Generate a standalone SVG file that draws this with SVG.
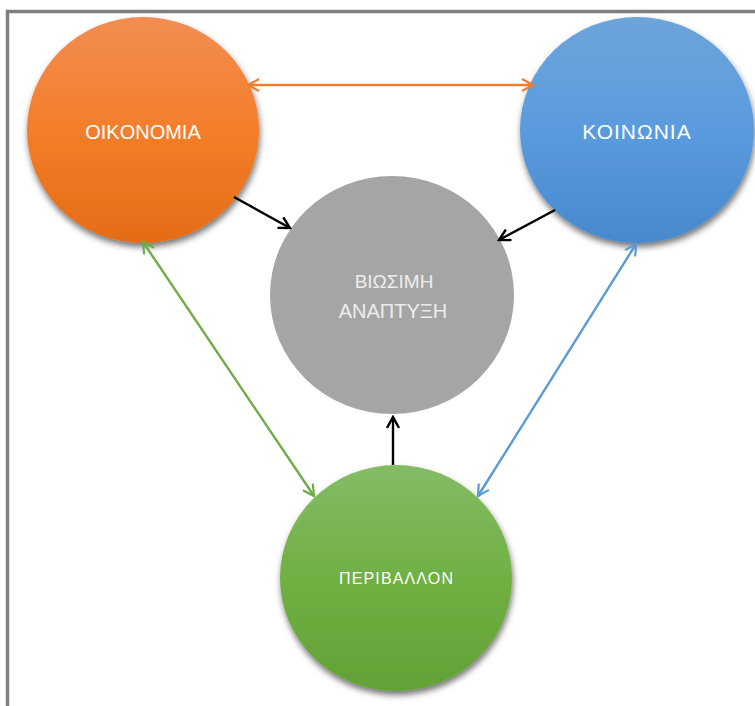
<svg xmlns="http://www.w3.org/2000/svg" width="755" height="706" viewBox="0 0 755 706">
<defs>
<style>
.lbl{font-family:"Liberation Sans",Arial,sans-serif;fill:#fff;text-anchor:middle}
.g{fill:#EDEDED}
.c{fill:none;stroke-width:2.4}
</style>
<linearGradient id="gO" x1="0" y1="0" x2="0" y2="1"><stop offset="0" stop-color="#F28D52"/><stop offset="0.5" stop-color="#F47E2A"/><stop offset="1" stop-color="#E46C17"/></linearGradient>
<linearGradient id="gB" x1="0" y1="0" x2="0" y2="1"><stop offset="0" stop-color="#6DA4DA"/><stop offset="0.5" stop-color="#5A9BDE"/><stop offset="1" stop-color="#4689CC"/></linearGradient>
<linearGradient id="gG" x1="0" y1="0" x2="0" y2="1"><stop offset="0" stop-color="#84BC66"/><stop offset="0.5" stop-color="#70B043"/><stop offset="1" stop-color="#62A236"/></linearGradient>
<filter id="sh" x="-20%" y="-20%" width="140%" height="145%"><feDropShadow dx="1" dy="4" stdDeviation="3" flood-color="#000" flood-opacity="0.55"/></filter>
<marker id="aK" viewBox="0 0 14 14" refX="12" refY="7" markerWidth="14" markerHeight="14" markerUnits="userSpaceOnUse" orient="auto-start-reverse"><path d="M1,1 L12,7 L1,13" fill="none" stroke="#000" stroke-width="2.4"/></marker>
<marker id="aO" viewBox="0 0 14 14" refX="12" refY="7" markerWidth="14" markerHeight="14" markerUnits="userSpaceOnUse" orient="auto-start-reverse"><path d="M1,1 L12,7 L1,13" fill="none" stroke="#ED7D31" stroke-width="2.2"/></marker>
<marker id="aG" viewBox="0 0 14 14" refX="12" refY="7" markerWidth="14" markerHeight="14" markerUnits="userSpaceOnUse" orient="auto-start-reverse"><path d="M1,1 L12,7 L1,13" fill="none" stroke="#70AD47" stroke-width="2.2"/></marker>
<marker id="aB" viewBox="0 0 14 14" refX="12" refY="7" markerWidth="14" markerHeight="14" markerUnits="userSpaceOnUse" orient="auto-start-reverse"><path d="M1,1 L12,7 L1,13" fill="none" stroke="#5B9BD5" stroke-width="2.2"/></marker>
</defs>
<rect width="755" height="706" fill="#fff"/>
<path d="M7.5,706 V11.5 H755" fill="none" stroke="#7F7F7F" stroke-width="3.5"/>
<g id="n-economy"><ellipse cx="143" cy="130" rx="116" ry="113" fill="url(#gO)" filter="url(#sh)"/><text class="lbl" x="143" y="139" font-size="20">OIKONOMIA</text></g>
<g id="n-society"><ellipse cx="637" cy="130" rx="117" ry="113" fill="url(#gB)" filter="url(#sh)"/><text class="lbl" x="637" y="139" font-size="21" letter-spacing="1">ΚΟΙΝΩΝΙΑ</text></g>
<g id="n-sustainable"><ellipse cx="392" cy="295" rx="122" ry="119" fill="#A5A5A5"/><text class="lbl g" x="394" y="288" font-size="19">ΒΙΩΣΙΜΗ</text><text class="lbl g" x="393" y="318" font-size="20">ΑΝΑΠΤΥΞΗ</text></g>
<g id="n-environment"><ellipse cx="396" cy="578" rx="116" ry="113" fill="url(#gG)" filter="url(#sh)"/><text class="lbl" x="396" y="584" font-size="16" textLength="114" lengthAdjust="spacing">ΠΕΡΙΒΑΛΛΟΝ</text></g>
<g id="connectors">
<line class="c" x1="248" y1="85" x2="533" y2="85" stroke="#ED7D31" marker-start="url(#aO)" marker-end="url(#aO)"/>
<line class="c" x1="234" y1="197" x2="290" y2="228" stroke="#000" stroke-width="2.6" marker-end="url(#aK)"/>
<line class="c" x1="555" y1="210" x2="499" y2="240" stroke="#000" stroke-width="2.6" marker-end="url(#aK)"/>
<line class="c" x1="393" y1="465" x2="393" y2="417" stroke="#000" stroke-width="2.6" marker-end="url(#aK)"/>
<line class="c" x1="143" y1="242" x2="314" y2="496" stroke="#70AD47" marker-start="url(#aG)" marker-end="url(#aG)"/>
<line class="c" x1="636" y1="244" x2="478" y2="496" stroke="#5B9BD5" marker-start="url(#aB)" marker-end="url(#aB)"/>
</g>
</svg>
